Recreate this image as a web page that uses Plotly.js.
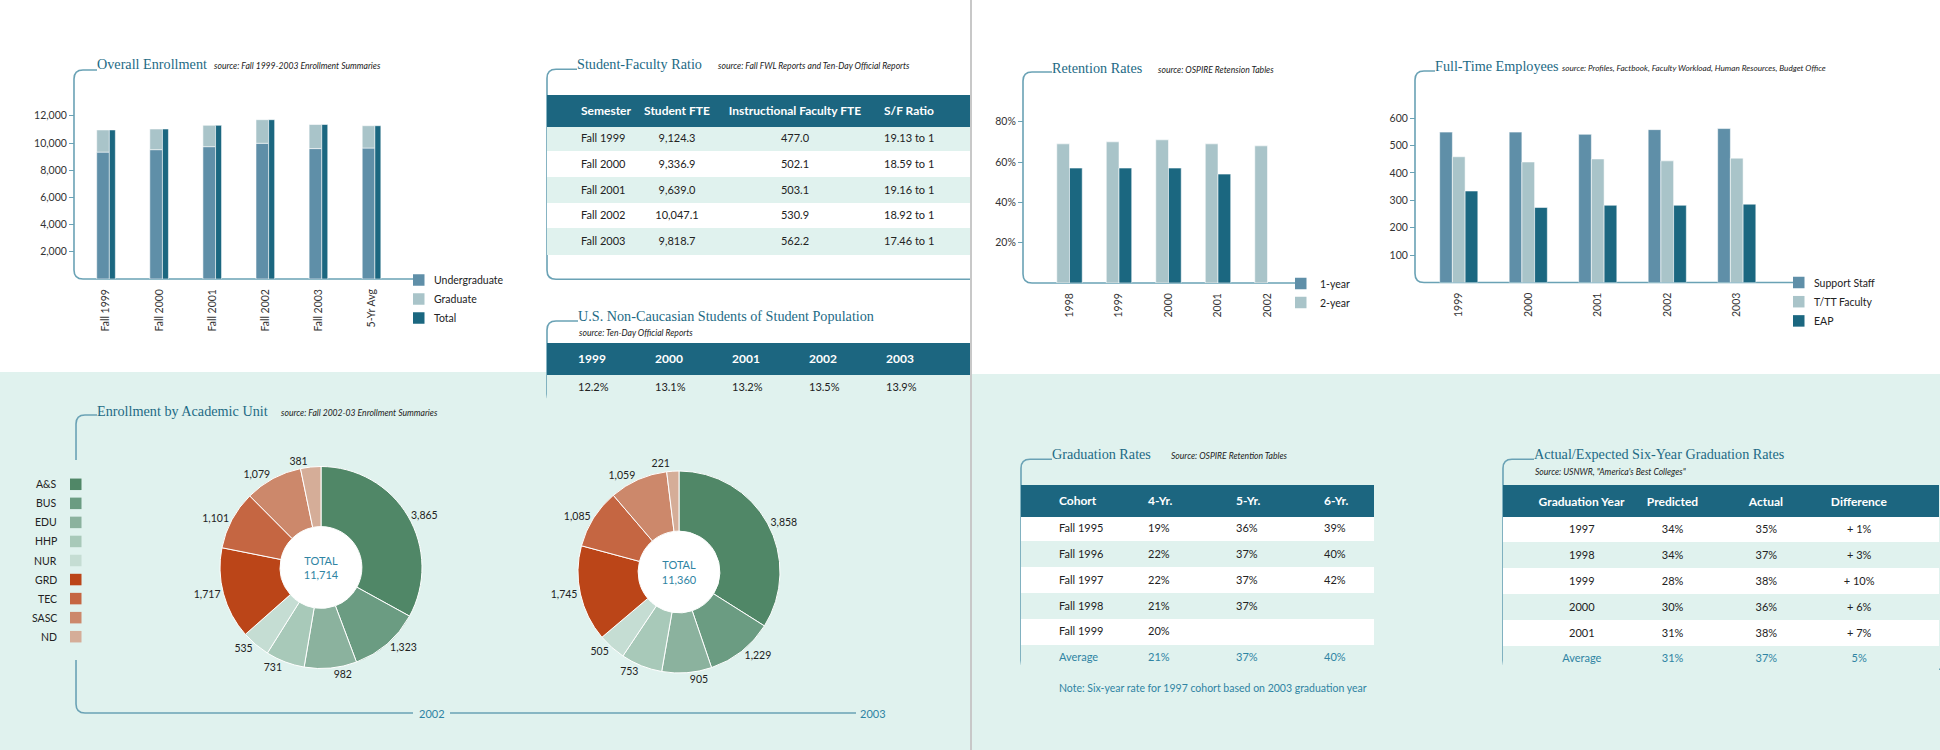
<!DOCTYPE html>
<html><head><meta charset="utf-8">
<script src="https://cdn.plot.ly/plotly-3.0.1.min.js"></script>
<style>html,body{margin:0;padding:0;background:#fff}#chart{width:1940px;height:750px}
path.textline{stroke-opacity:0 !important}</style>
</head><body><div id="chart"></div>
<script>
// ---------------- DATA ----------------
const enrollCategories = ['Fall 1999','Fall 2000','Fall 2001','Fall 2002','Fall 2003','5-Yr Avg'];
const enrollUndergrad = [9330, 9510, 9730, 9980, 9590, 9630];
const enrollGraduate  = [1630, 1520, 1570, 1734, 1770, 1640];
const enrollTotal     = [10960, 11030, 11300, 11714, 11360, 11270];
const enrollTicks = [2000, 4000, 6000, 8000, 10000, 12000];
const enrollSeries = ['Undergraduate','Graduate','Total'];

const retentionYears = ['1998','1999','2000','2001','2002'];
const retention1yr = [57, 57, 57, 54, null];
const retention2yr = [69, 70, 71, 69, 68];
const retentionTicks = [20, 40, 60, 80];
const retentionTickText = ['20%', '40%', '60%', '80%'];
const retentionSeries = ['1-year','2-year'];

const fteYears = ['1999','2000','2001','2002','2003'];
const fteSupport = [549, 549, 541, 558, 562];
const fteFaculty = [459, 440, 451, 444, 454];
const fteEAP     = [334, 274, 282, 282, 286];
const fteTicks = [100, 200, 300, 400, 500, 600];
const fteSeries = ['Support Staff','T/TT Faculty','EAP'];

const unitLabels = ['A&S','BUS','EDU','HHP','NUR','GRD','TEC','SASC','ND'];
const unit2002 = [3865, 1323, 982, 731, 535, 1717, 1101, 1079, 381];
const unit2003 = [3858, 1229, 905, 753, 505, 1745, 1085, 1059, 221];

const sfHeader = ['Semester','Student FTE','Instructional Faculty FTE','S/F Ratio'];
const sfSemester = ['Fall 1999','Fall 2000','Fall 2001','Fall 2002','Fall 2003'];
const sfStudentFTE = ['9,124.3','9,336.9','9,639.0','10,047.1','9,818.7'];
const sfFacultyFTE = ['477.0','502.1','503.1','530.9','562.2'];
const sfRatio = ['19.13 to 1','18.59 to 1','19.16 to 1','18.92 to 1','17.46 to 1'];

const ncYears = ['1999','2000','2001','2002','2003'];
const ncShare = ['12.2%','13.1%','13.2%','13.5%','13.9%'];

const gradHeader = ['Cohort','4-Yr.','5-Yr.','6-Yr.'];
const gradCohort = ['Fall 1995','Fall 1996','Fall 1997','Fall 1998','Fall 1999','Average'];
const grad4yr = ['19%','22%','22%','21%','20%','21%'];
const grad5yr = ['36%','37%','37%','37%','','37%'];
const grad6yr = ['39%','40%','42%','','','40%'];

const aeHeader = ['Graduation Year','Predicted','Actual','Difference'];
const aeYear = ['1997','1998','1999','2000','2001','Average'];
const aePredicted = ['34%','34%','28%','30%','31%','31%'];
const aeActual = ['35%','37%','38%','36%','38%','37%'];
const aeDiff = ['+ 1%','+ 3%','+ 10%','+ 6%','+ 7%','5%'];

// ---------------- STYLE ----------------
const W = 1940, H = 750;
const X = x => x / W;
const Y = y => 1 - y / H;
const C = {
  mid: '#5f8fa8', light: '#a9c4c9', dark: '#1b6780',
  header: '#1c6680', teal: '#e0f2ee', frame: '#6aa2b5',
  title: '#1d6a85', text: '#222222', accent: '#2f84a3'
};
const unitColors = ['#508767','#6b9c82','#8bb29e','#a8c9b9','#c5ddd3','#bb4518','#c56642','#cc886b','#d5ad98'];
const SANS = 'Lato, "Open Sans", sans-serif';
const SERIF = '"Liberation Serif", "DejaVu Serif", serif';
const tickFont = {family: SANS, size: 10.5, color: '#333'};
const barLine = {color: 'rgba(255,255,255,0.55)', width: 1};
const nb = s => String(s).replace(/ /g, '\u00a0');

// ---------------- TRACES ----------------
const traces = [];
// Overall enrollment
traces.push({type:'bar', name:enrollSeries[0], x:enrollCategories, y:enrollUndergrad, xaxis:'x', yaxis:'y',
  offset:-0.175, width:0.238, marker:{color:C.mid, line:barLine}});
traces.push({type:'bar', name:enrollSeries[1], x:enrollCategories, y:enrollGraduate, base:enrollUndergrad, xaxis:'x', yaxis:'y',
  offset:-0.175, width:0.238, marker:{color:C.light, line:barLine}});
traces.push({type:'bar', name:enrollSeries[2], x:enrollCategories, y:enrollTotal, xaxis:'x', yaxis:'y',
  offset:0.063, width:0.113, marker:{color:C.dark, line:barLine}});
// Retention
traces.push({type:'bar', name:retentionSeries[1], x:retentionYears, y:retention2yr, xaxis:'x2', yaxis:'y2',
  offset:-0.257, width:0.257, marker:{color:C.light, line:barLine}});
traces.push({type:'bar', name:retentionSeries[0], x:retentionYears, y:retention1yr, xaxis:'x2', yaxis:'y2',
  offset:0, width:0.257, marker:{color:C.dark, line:barLine}});
// FTE
traces.push({type:'bar', name:fteSeries[0], x:fteYears, y:fteSupport, xaxis:'x3', yaxis:'y3',
  offset:-0.2745, width:0.183, marker:{color:C.mid, line:barLine}});
traces.push({type:'bar', name:fteSeries[1], x:fteYears, y:fteFaculty, xaxis:'x3', yaxis:'y3',
  offset:-0.0915, width:0.183, marker:{color:C.light, line:barLine}});
traces.push({type:'bar', name:fteSeries[2], x:fteYears, y:fteEAP, xaxis:'x3', yaxis:'y3',
  offset:0.0915, width:0.183, marker:{color:C.dark, line:barLine}});

// Pies
const fmt = v => v.toLocaleString('en-US');
const sum = a => a.reduce((s, v) => s + v, 0);
function pie(values, cx, cy, r) {
  return {type:'pie', labels:unitLabels, values:values, sort:false, direction:'clockwise', rotation:0,
    hole:0.405, domain:{x:[X(cx - r), X(cx + r)], y:[Y(cy + r), Y(cy - r)]},
    marker:{colors:unitColors, line:{color:'#ffffff', width:1}},
    textposition:'outside', texttemplate:'%{value:,}', textfont:{family:SANS, size:10.5, color:C.text},
    hoverinfo:'label+value', showlegend:false,
    title:{text:'TOTAL<br>' + fmt(sum(values)), position:'middle center', font:{family:SANS, size:11, color:C.accent}}};
}
const pie02 = {cx:321, cy:567.5, r:101};
const pie03 = {cx:679, cy:572, r:101};
traces.push(pie(unit2002, pie02.cx, pie02.cy, pie02.r));
traces.push(pie(unit2003, pie03.cx, pie03.cy, pie03.r));

// Tables
const blank = n => Array(n).fill('');
const rowFills = (n, first) => Array.from({length:n}, (_, i) => (i % 2 === 0) === first ? C.teal : '#ffffff');
const headerFont = {family:SANS, size:12, color:'#ffffff'};
function table(opts) {
  return {type:'table', domain:{x:[X(opts.x0), X(opts.x1)], y:[Y(opts.y1), Y(opts.y0)]},
    columnwidth:opts.widths,
    header:{values:opts.header.map(h => h ? '<b>' + nb(h) + '</b>' : ''), align:opts.align, height:opts.hh,
      fill:{color:C.header}, line:{color:C.header, width:1}, font:headerFont},
    cells:{values:opts.cells.map(col => col.map(nb)), align:opts.align, height:opts.rh,
      fill:{color:[opts.fills]}, line:{color:[opts.fills], width:1},
      font:{family:SANS, size:11, color:[opts.fontColors]}}};
}
traces.push(table({x0:547, x1:970, y0:95, y1:270, widths:[26,67,74,162,66,28], hh:28, rh:25.7,
  header:['', ...sfHeader, ''], align:['left','left','center','center','left','left'],
  cells:[blank(5), sfSemester, sfStudentFTE, sfFacultyFTE, sfRatio, blank(5)],
  fills:rowFills(5, true), fontColors:Array(5).fill(C.text)}));
traces.push(table({x0:547, x1:970, y0:343.3, y1:412, widths:[23,77,77,77,77,77,15], hh:28.4, rh:30,
  header:['', ...ncYears, ''], align:'left',
  cells:[blank(1), ...ncShare.map(v => [v]), blank(1)],
  fills:[C.teal], fontColors:[C.text]}));
traces.push(table({x0:1021, x1:1373, y0:485, y1:680, widths:[30,89,88,88,57], hh:29.3, rh:25.8,
  header:['', ...gradHeader], align:'left',
  cells:[blank(6), gradCohort, grad4yr, grad5yr, grad6yr],
  fills:rowFills(6, false), fontColors:[C.text,C.text,C.text,C.text,C.text,C.accent]}));
traces.push(table({x0:1503, x1:1940, y0:485.7, y1:680, widths:[33,92,90,98,88,36], hh:28.3, rh:25.9,
  header:['', ...aeHeader, ''], align:'center',
  cells:[blank(6), aeYear, aePredicted, aeActual, aeDiff, blank(6)],
  fills:rowFills(6, false), fontColors:[C.text,C.text,C.text,C.text,C.text,C.accent]}));

// ---------------- LAYOUT ----------------
function catAxis(x0, x1, yName, n) {
  return {domain:[X(x0), X(x1)], anchor:yName, type:'category', range:[-0.5, n - 0.5],
    tickangle:-90, showline:false, showgrid:false, zeroline:false, ticks:'', ticklabelstandoff:7,
    tickfont:tickFont, fixedrange:true};
}
function valAxis(yBottom, yTop, xPos, range, ticks, extra) {
  return Object.assign({domain:[Y(yBottom), Y(yTop)], anchor:'free', position:X(xPos), range:range,
    tickvals:ticks, ticks:'outside', ticklen:5, tickwidth:1, tickcolor:C.frame, showline:false,
    showgrid:false, zeroline:false, tickfont:tickFont, fixedrange:true}, extra || {});
}

const shapes = [];
const annotations = [];
// background bands + divider
shapes.push({type:'rect', xref:'paper', yref:'paper', x0:0, x1:X(970), y0:0, y1:Y(372), fillcolor:C.teal, line:{width:0}, layer:'below'});
shapes.push({type:'rect', xref:'paper', yref:'paper', x0:X(972), x1:1, y0:0, y1:Y(374), fillcolor:C.teal, line:{width:0}, layer:'below'});
shapes.push({type:'line', xref:'paper', yref:'paper', x0:X(971), x1:X(971), y0:0, y1:1, line:{color:'#c8c8c8', width:2}});
// white donut centres
[pie02, pie03].forEach(p => shapes.push({type:'circle', xref:'paper', yref:'paper', layer:'below',
  x0:X(p.cx - 41), x1:X(p.cx + 41), y0:Y(p.cy + 41), y1:Y(p.cy - 41), fillcolor:'#ffffff', line:{width:0}}));

// rounded frames
const P = (x, y) => X(x).toFixed(5) + ',' + Y(y).toFixed(5);
function frame(xt, yt, xl, yb, xr, r) {
  return 'M' + P(xt, yt) + ' L' + P(xl + r, yt) + ' Q' + P(xl, yt) + ' ' + P(xl, yt + r) +
    ' L' + P(xl, yb - r) + ' Q' + P(xl, yb) + ' ' + P(xl + r, yb) + ' L' + P(xr, yb);
}
const frameLine = {color:C.frame, width:1.6};
[
  frame(97, 70, 74, 279, 413, 9),
  frame(577, 69.3, 547, 279.3, 970, 9),
  frame(578, 321, 547, 403, 970, 9),
  frame(1052, 72, 1023, 283, 1295, 9),
  frame(1435, 71, 1415, 282.5, 1793, 9),
  frame(1052, 459.3, 1021, 669.3, 1373, 9),
  frame(1534, 459.3, 1503, 669.3, 1940, 9)
].forEach(p => shapes.push({type:'path', xref:'paper', yref:'paper', path:p, line:frameLine, layer:'below'}));
shapes.push({type:'path', xref:'paper', yref:'paper', layer:'below', line:frameLine,
  path:'M' + P(97, 415) + ' L' + P(85, 415) + ' Q' + P(76, 415) + ' ' + P(76, 424) + ' L' + P(76, 460) +
       ' M' + P(76, 660) + ' L' + P(76, 704) + ' Q' + P(76, 713) + ' ' + P(85, 713) + ' L' + P(413, 713) +
       ' M' + P(450, 713) + ' L' + P(856, 713)});

// titles & sources
function title(text, x, y, size) {
  annotations.push({xref:'paper', yref:'paper', x:X(x), y:Y(y), xanchor:'left', yanchor:'middle', showarrow:false,
    text:text, font:{family:SERIF, size:size || 14.2, color:C.title}});
}
function note(text, x, y, opts) {
  annotations.push(Object.assign({xref:'paper', yref:'paper', x:X(x), y:Y(y), xanchor:'left', yanchor:'middle', showarrow:false,
    text:text, font:{family:SANS, size:8.6, color:C.text}}, opts || {}));
}
title('Overall Enrollment', 95, 64);
note('<i>source: Fall 1999-2003 Enrollment Summaries</i>', 212, 66);
title('Student-Faculty Ratio', 575, 64);
note('<i>source: Fall FWL Reports and Ten-Day Official Reports</i>', 716, 66);
title('U.S. Non-Caucasian Students of Student Population', 576, 316);
note('<i>source: Ten-Day Official Reports</i>', 577, 332.5);
title('Retention Rates', 1050, 68);
note('<i>source: OSPIRE Retension Tables</i>', 1156, 70);
title('Full-Time Employees', 1433, 66);
note('<i>source: Profiles, Factbook, Faculty Workload, Human Resources, Budget Office</i>', 1560, 68, {font:{family:SANS, size:8.2, color:C.text}});
title('Enrollment by Academic Unit', 95, 411);
note('<i>source: Fall 2002-03 Enrollment Summaries</i>', 279, 413);
title('Graduation Rates', 1050, 454);
note('<i>Source: OSPIRE Retention Tables</i>', 1169, 456);
title('Actual/Expected Six-Year Graduation Rates', 1532, 454);
note('<i>Source: USNWR, "America\'s Best Colleges"</i>', 1533, 472);
note('Note: Six-year rate for 1997 cohort based on 2003 graduation year', 1057, 688,
  {font:{family:SANS, size:10.5, color:C.accent}});
note('2002', 431.5, 713, {xanchor:'center', font:{family:SANS, size:11, color:C.accent}});
note('2003', 873, 713, {xanchor:'center', font:{family:SANS, size:11, color:C.accent}});

// legends
function legend(items, colors, sx, sy0, step, textX) {
  items.forEach((name, i) => {
    const cy = sy0 + i * step;
    shapes.push({type:'rect', xref:'paper', yref:'paper', x0:X(sx), x1:X(sx + 11.5), y0:Y(cy + 5.75), y1:Y(cy - 5.75),
      fillcolor:colors[i], line:{width:0}});
    annotations.push({xref:'paper', yref:'paper', x:X(textX), y:Y(cy), xanchor:'left', yanchor:'middle', showarrow:false,
      text:name, font:{family:SANS, size:10.5, color:C.text}});
  });
}
legend(enrollSeries, [C.mid, C.light, C.dark], 413, 280, 19, 432);
legend(retentionSeries, [C.mid, C.light], 1295, 283.5, 19, 1318);
legend(fteSeries, [C.mid, C.light, C.dark], 1793, 282.5, 19.2, 1811.5);
unitLabels.forEach((name, i) => {
  const cy = 484.3 + i * 19.05;
  shapes.push({type:'rect', xref:'paper', yref:'paper', x0:X(70), x1:X(81.5), y0:Y(cy + 5.75), y1:Y(cy - 5.75),
    fillcolor:unitColors[i], line:{width:0}});
  annotations.push({xref:'paper', yref:'paper', x:X(59), y:Y(cy), xanchor:'right', yanchor:'middle', showarrow:false,
    text:name, font:{family:SANS, size:10.5, color:C.text}});
});

const layout = {
  width:W, height:H, margin:{l:0, r:0, t:0, b:0}, paper_bgcolor:'#ffffff', plot_bgcolor:'rgba(0,0,0,0)',
  showlegend:false, barmode:'overlay', font:{family:SANS, color:C.text},
  xaxis: catAxis(79.45, 398.05, 'y', enrollCategories.length),
  yaxis: valAxis(279, 102.2, 74, [0, 13000], enrollTicks, {tickformat:','}),
  xaxis2: catAxis(1044.75, 1292.25, 'y2', retentionYears.length),
  yaxis2: valAxis(283, 101.5, 1023, [0, 90], retentionTicks, {ticktext:retentionTickText}),
  xaxis3: catAxis(1424, 1771.5, 'y3', fteYears.length),
  yaxis3: valAxis(282.5, 101.7, 1415, [0, 660], fteTicks),
  shapes:shapes, annotations:annotations
};
Plotly.newPlot('chart', traces, layout, {displayModeBar:false, staticPlot:true});
</script>
</body></html>
